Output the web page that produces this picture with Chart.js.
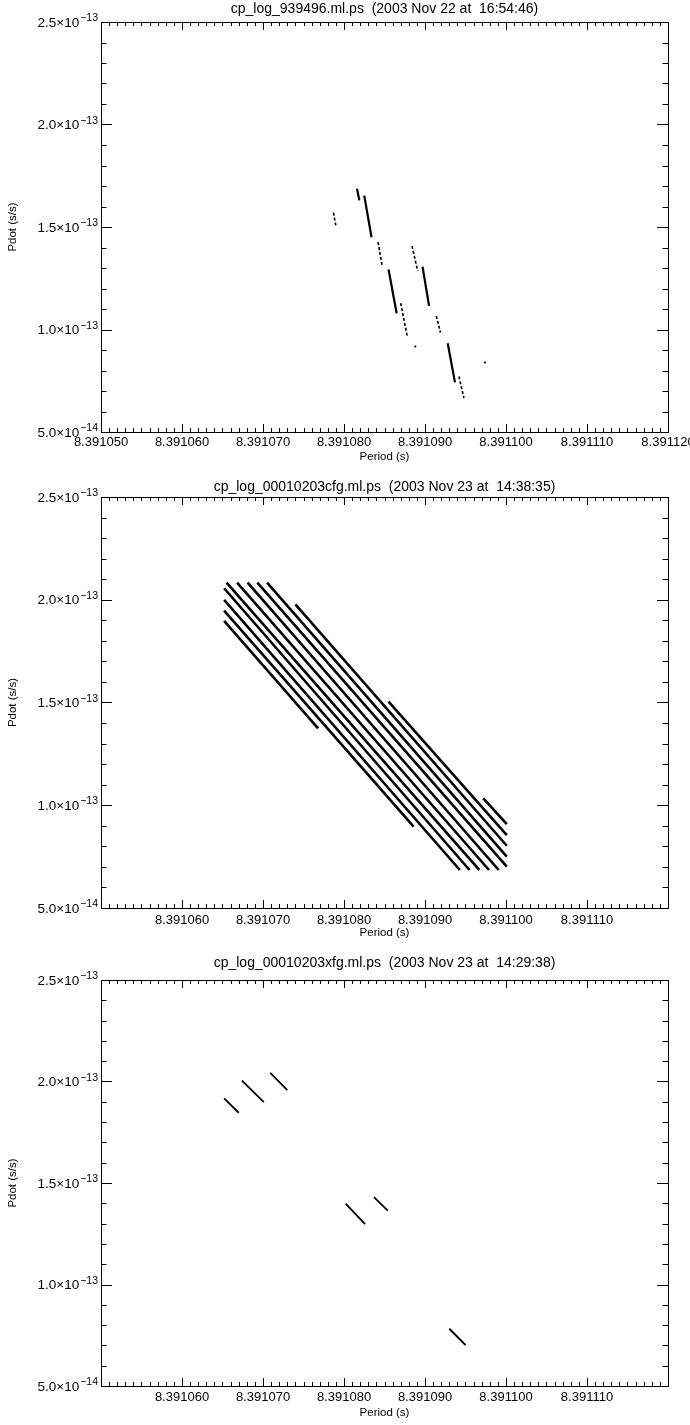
<!DOCTYPE html>
<html>
<head>
<meta charset="utf-8">
<title>cp_log period / pdot</title>
<script src="https://cdn.jsdelivr.net/npm/chart.js@4.4.1/dist/chart.umd.min.js"></script>
<style>
  body { margin: 0; background: #fff; }
  canvas { display: block; }
</style>
</head>
<body>
<canvas id="plot1" width="690" height="475"></canvas>
<canvas id="plot2" width="690" height="475"></canvas>
<canvas id="plot3" width="690" height="475"></canvas>
<script>
/* Datos (Period en s, Pdot en s/s) */

// ejes comunes
const periodMin = 8.391050;
const periodMax = 8.391120;
const pdotMin = 5e-14;
const pdotMax = 2.5e-13;
const pdotTicks = [5e-14, 1e-13, 1.5e-13, 2e-13, 2.5e-13];
const pdotMantissa = ["5.0×10", "1.0×10", "1.5×10", "2.0×10", "2.5×10"];
const pdotExponent = ["−14", "−13", "−13", "−13", "−13"];
const periodTicksFull = [8.391050, 8.391060, 8.391070, 8.391080, 8.391090, 8.391100, 8.391110, 8.391120];
const periodTicksInner = [8.391060, 8.391070, 8.391080, 8.391090, 8.391100, 8.391110];

const titles = [
  "cp_log_939496.ml.ps  (2003 Nov 22 at  16:54:46)",
  "cp_log_00010203cfg.ml.ps  (2003 Nov 23 at  14:38:35)",
  "cp_log_00010203xfg.ml.ps  (2003 Nov 23 at  14:29:38)"
];

// grafico 1: trazos cortos (inicio / fin)
const p1PeriodStart = [8.3910787, 8.3910816, 8.3910825, 8.3910842, 8.3910855, 8.3910870, 8.3910884, 8.3910897, 8.3910914, 8.3910928, 8.3910942];
const p1PeriodEnd   = [8.3910790, 8.3910819, 8.3910834, 8.3910847, 8.3910865, 8.3910878, 8.3910891, 8.3910905, 8.3910919, 8.3910937, 8.3910948];
const p1PdotStart   = [1.570e-13, 1.687e-13, 1.653e-13, 1.426e-13, 1.293e-13, 1.128e-13, 1.407e-13, 1.306e-13, 1.066e-13, 0.933e-13, 0.771e-13];
const p1PdotEnd     = [1.505e-13, 1.630e-13, 1.450e-13, 1.313e-13, 1.079e-13, 0.969e-13, 1.285e-13, 1.115e-13, 0.985e-13, 0.742e-13, 0.665e-13];
const p1DotPeriod = [8.3910888, 8.3910974];
const p1DotPdot   = [0.917e-13, 0.839e-13];

// grafico 2: lineas paralelas
const p2PeriodStart = [8.3910652, 8.3910652, 8.3910652, 8.3910652, 8.3910655, 8.3910668, 8.3910681, 8.3910693, 8.3910705, 8.3910740, 8.3910855, 8.3910972];
const p2PeriodEnd   = [8.3910768, 8.3910886, 8.3910943, 8.3910955, 8.3910967, 8.3910979, 8.3910991, 8.3911001, 8.3911001, 8.3911001, 8.3911001, 8.3911001];
const p2PdotStart   = [1.897e-13, 1.947e-13, 1.999e-13, 2.056e-13, 2.083e-13, 2.083e-13, 2.083e-13, 2.083e-13, 2.083e-13, 1.978e-13, 1.504e-13, 1.034e-13];
const p2PdotEnd     = [1.374e-13, 0.896e-13, 0.685e-13, 0.685e-13, 0.685e-13, 0.685e-13, 0.685e-13, 0.701e-13, 0.750e-13, 0.803e-13, 0.855e-13, 0.908e-13];

// grafico 3: seis trazos
const p3PeriodStart = [8.3910652, 8.3910674, 8.3910709, 8.3910802, 8.3910837, 8.3910930];
const p3PeriodEnd   = [8.3910670, 8.3910701, 8.3910730, 8.3910826, 8.3910854, 8.3910950];
const p3PdotStart   = [1.917e-13, 2.004e-13, 2.043e-13, 1.398e-13, 1.430e-13, 0.782e-13];
const p3PdotEnd     = [1.846e-13, 1.898e-13, 1.957e-13, 1.297e-13, 1.364e-13, 0.702e-13];

// trazos del grafico 1 que salen punteados
const p1Dashed = [0, 3, 5, 6, 8, 10];

const FONT = "'Liberation Sans', Arial, sans-serif";

// Marco tipo IDL con marcas hacia adentro y etiquetas con exponente
const idlFrame = {
  id: "idlFrame",
  afterDraw(chart) {
    const { ctx, chartArea: a, scales: { x, y } } = chart;
    ctx.save();
    ctx.strokeStyle = "#000";
    ctx.lineWidth = 1;
    ctx.strokeRect(a.left + 0.5, a.top + 0.5, a.right - a.left, a.bottom - a.top);
    ctx.beginPath();
    for (let k = 0; k <= 70; k++) {
      const px = Math.round(x.getPixelForValue(periodMin + k * 1e-6)) + 0.5;
      const len = k % 10 === 0 ? 8 : 4;
      ctx.moveTo(px, a.bottom);
      ctx.lineTo(px, a.bottom - len);
      ctx.moveTo(px, a.top);
      ctx.lineTo(px, a.top + len);
    }
    for (let k = 0; k <= 20; k++) {
      const py = Math.round(y.getPixelForValue(pdotMin + k * 1e-14)) + 0.5;
      const len = k % 5 === 0 ? 11 : 5.5;
      ctx.moveTo(a.left, py);
      ctx.lineTo(a.left + len, py);
      ctx.moveTo(a.right, py);
      ctx.lineTo(a.right - len, py);
    }
    ctx.stroke();

    // etiquetas del eje Y: mantisa + exponente elevado
    ctx.fillStyle = "#000";
    ctx.textAlign = "right";
    pdotTicks.forEach((v, i) => {
      const py = y.getPixelForValue(v);
      const xr = a.left - 3;
      ctx.font = "10.5px " + FONT;
      ctx.textBaseline = "alphabetic";
      const ew = ctx.measureText(pdotExponent[i]).width;
      ctx.fillText(pdotExponent[i], xr, py - 1);
      ctx.font = "13.5px " + FONT;
      ctx.textBaseline = "middle";
      ctx.fillText(pdotMantissa[i], xr - ew - 1, py + 1);
    });
    ctx.restore();
  }
};

function segmentos(pStart, pEnd, dStart, dEnd, width, dashed) {
  return pStart.map((p, i) => ({
    data: [{ x: p, y: dStart[i] }, { x: pEnd[i], y: dEnd[i] }],
    borderColor: "#000",
    borderWidth: dashed && dashed.includes(i) ? width * 0.75 : width,
    borderDash: dashed && dashed.includes(i) ? [3, 2] : [],
    borderCapStyle: "butt",
    pointRadius: 0,
    fill: false
  }));
}

function puntos(periods, pdots) {
  return [{
    data: periods.map((p, i) => ({ x: p, y: pdots[i] })),
    showLine: false,
    pointRadius: 1.1,
    pointBorderWidth: 0,
    pointBackgroundColor: "#000"
  }];
}

function graficar(id, titulo, datasets, cfg) {
  // eslint-disable-next-line no-undef
  return new Chart(document.getElementById(id), {
    type: "line",
    data: { datasets },
    plugins: [idlFrame],
    options: {
      responsive: false,
      animation: false,
      events: [],
      layout: { padding: { top: 0, right: 22, bottom: 0, left: 0 } },
      plugins: {
        legend: { display: false },
        tooltip: { enabled: false },
        title: {
          display: true,
          fullSize: false,
          text: titulo,
          color: "#000",
          font: { family: FONT, size: 14, weight: "normal" },
          padding: { top: cfg.titleTop, bottom: cfg.titleBottom }
        }
      },
      scales: {
        x: {
          type: "linear",
          min: periodMin,
          max: periodMax,
          grid: { display: false, drawTicks: false },
          border: { display: false },
          afterBuildTicks: (s) => { s.ticks = cfg.xTicks.map((v) => ({ value: v })); },
          afterFit: (s) => { s.height = cfg.xHeight; s.paddingLeft = 0; s.paddingRight = 0; },
          ticks: {
            color: "#000",
            padding: cfg.xTickPad,
            maxRotation: 0,
            autoSkip: false,
            font: { family: FONT, size: 13 },
            callback: (v) => Number(v).toFixed(6)
          },
          title: {
            display: true,
            text: "Period (s)",
            color: "#000",
            font: { family: FONT, size: 11.5 },
            padding: { top: 0, bottom: cfg.xTitlePad }
          }
        },
        y: {
          type: "linear",
          min: pdotMin,
          max: pdotMax,
          grid: { display: false, drawTicks: false },
          border: { display: false },
          afterBuildTicks: (s) => { s.ticks = pdotTicks.map((v) => ({ value: v })); },
          afterFit: (s) => { s.width = 101; s.paddingTop = 0; s.paddingBottom = 0; },
          ticks: { display: false },
          title: {
            display: true,
            text: "Pdot (s/s)",
            color: "#000",
            font: { family: FONT, size: 11.5 },
            padding: { top: 6, bottom: 0 }
          }
        }
      }
    }
  });
}

graficar("plot1", titles[0],
  segmentos(p1PeriodStart, p1PeriodEnd, p1PdotStart, p1PdotEnd, 2.2, p1Dashed).concat(puntos(p1DotPeriod, p1DotPdot)),
  { titleTop: 0.6, titleBottom: 4.6, xHeight: 43, xTickPad: 3, xTitlePad: 11, xTicks: periodTicksFull });

graficar("plot2", titles[1],
  segmentos(p2PeriodStart, p2PeriodEnd, p2PdotStart, p2PdotEnd, 2.6),
  { titleTop: 3.6, titleBottom: 1.6, xHeight: 42, xTickPad: 5, xTitlePad: 10, xTicks: periodTicksInner });

graficar("plot3", titles[2],
  segmentos(p3PeriodStart, p3PeriodEnd, p3PdotStart, p3PdotEnd, 1.8),
  { titleTop: 4.6, titleBottom: 8.6, xHeight: 39, xTickPad: 4, xTitlePad: 5, xTicks: periodTicksInner });
</script>
</body>
</html>
